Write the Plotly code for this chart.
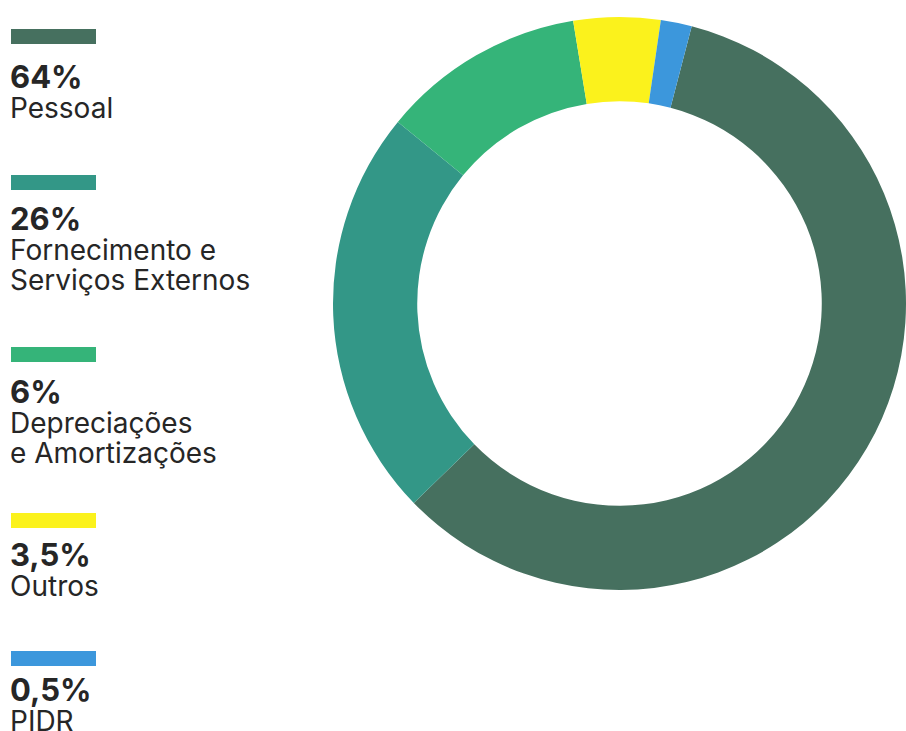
import plotly.graph_objects as go

# Data
categories = ["Pessoal", "Fornecimento e Serviços Externos", "Depreciações e Amortizações", "Outros", "PIDR"]
legend_pct = ["64%", "26%", "6%", "3,5%", "0,5%"]
legend_lines = [["Pessoal"], ["Fornecimento e", "Serviços Externos"], ["Depreciações", "e Amortizações"], ["Outros"], ["PIDR"]]
slice_values = [58.75, 23.2, 11.5, 4.9, 1.75]
colors = ["#46705f", "#339787", "#35b479", "#fbf21c", "#3c97dc"]

W, H = 906, 731

fig = go.Figure()
fig.add_trace(go.Pie(
    labels=categories, values=slice_values, sort=False, direction="clockwise",
    rotation=14.6, hole=0.706,
    marker=dict(colors=colors, line=dict(width=0)),
    textinfo="none", hoverinfo="label+percent", showlegend=False,
    domain=dict(x=[333 / W, 1.0], y=[1 - 593 / H, 1 - 14 / H]),
))

# Legend layout (pixel positions)
bar_tops = [29, 175, 347, 513, 651]
pct_cap_top = [65, 207, 380, 543, 678]

shapes = []
annotations = []
TXT = "#262626"
def py(y):
    return 1 - y / H

for i in range(len(categories)):
    shapes.append(dict(type="rect", xref="paper", yref="paper",
                       x0=11 / W, x1=96 / W, y0=py(bar_tops[i] + 15), y1=py(bar_tops[i]),
                       fillcolor=colors[i], line=dict(width=0)))
    txt = "<span style='font-size:31px'><b>" + legend_pct[i] + "</b></span>"
    for ln in legend_lines[i]:
        txt += "<br><span style='font-size:28px'>" + ln + "</span>"
    annotations.append(dict(text=txt, xref="paper", yref="paper", align="left",
                            x=8 / W, y=py(pct_cap_top[i] - 9), xanchor="left", yanchor="top",
                            showarrow=False, font=dict(family="Inter", size=23, color=TXT)))

fig.update_layout(width=W, height=H, margin=dict(l=0, r=0, t=0, b=0),
                  paper_bgcolor="white", plot_bgcolor="white",
                  shapes=shapes, annotations=annotations)
fig.write_html("out.html")
